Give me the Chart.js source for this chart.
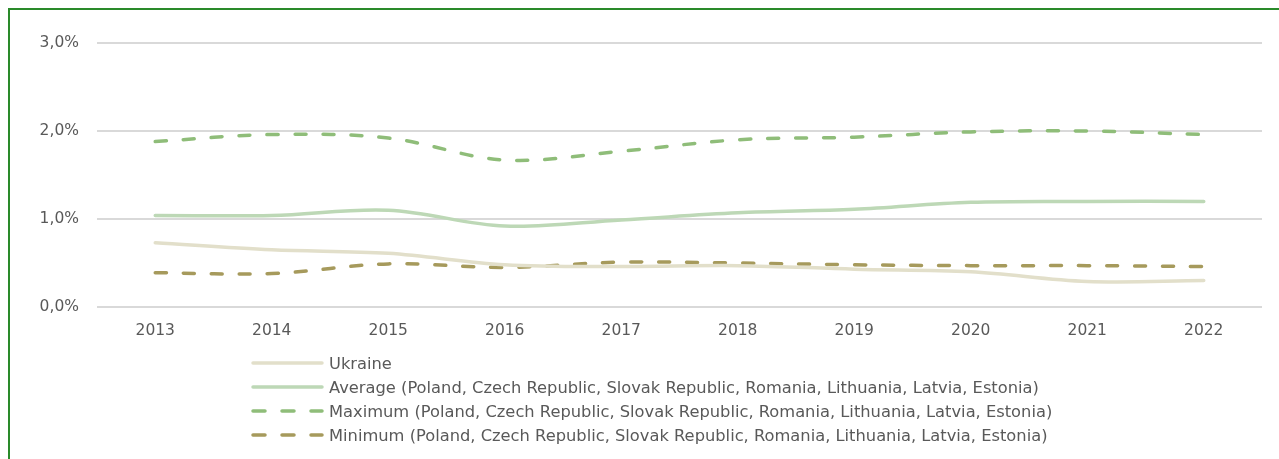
<!DOCTYPE html>
<html>
<head>
<meta charset="utf-8">
<script src="https://cdn.jsdelivr.net/npm/chart.js@4.4.0/dist/chart.umd.min.js"></script>
<style>
  body { margin: 0; background: #fff; width: 1279px; height: 459px; overflow: hidden; position: relative; font-family: "DejaVu Sans", sans-serif; }
  #frame { position: absolute; left: 8px; top: 8px; width: 1400px; height: 600px; border: 2px solid #2a8a2a; box-sizing: border-box; }
  #wrap { position: absolute; left: 0; top: 0; width: 1279px; height: 345px; }
  #legend { position: absolute; left: 250px; top: 351px; color: #595959; font-size: 16.3px; }
  .item { height: 24px; display: flex; align-items: center; }
  .item canvas { margin-right: 5px; }
</style>
</head>
<body>
<div id="frame"></div>
<div id="wrap"><canvas id="myChart"></canvas></div>
<div id="legend"></div>
<script>
    var years = ['2013', '2014', '2015', '2016', '2017', '2018', '2019', '2020', '2021', '2022']
    var ukraine = [0.73, 0.65, 0.61, 0.48, 0.46, 0.47, 0.43, 0.40, 0.29, 0.30]
    var average = [1.04, 1.04, 1.10, 0.92, 0.99, 1.07, 1.11, 1.19, 1.20, 1.20]
    var maximum = [1.88, 1.96, 1.92, 1.67, 1.77, 1.90, 1.93, 1.99, 2.00, 1.96]
    var minimum = [0.39, 0.38, 0.49, 0.45, 0.51, 0.50, 0.48, 0.47, 0.47, 0.46]
    var group = '(Poland, Czech Republic, Slovak Republic, Romania, Lithuania, Latvia, Estonia)'

    var textColor = '#595959'
    var font = { family: '"DejaVu Sans", sans-serif', size: 15.5 }

    function line(label, data, color, dashed) {
        return {
            label: label,
            data: data,
            borderColor: color,
            backgroundColor: color,
            borderWidth: 3.5,
            borderDash: dashed ? [11, 17] : [],
            borderCapStyle: 'round',
            pointRadius: 0,
            tension: 0.35,
            fill: false
        }
    }

    var ctx = document.getElementById('myChart').getContext('2d');
    var myChart = new Chart(ctx, {
        type: 'line',
        data: {
            labels: years,
            datasets: [
                line('Ukraine', ukraine, '#e2dfca', false),
                line('Average ' + group, average, '#bdd8b6', false),
                line('Maximum ' + group, maximum, '#8fbd79', true),
                line('Minimum ' + group, minimum, '#a69a5c', true)
            ]
        },
        options: {
            responsive: true,
            maintainAspectRatio: false,
            animation: false,
            layout: { padding: { top: 43, right: 17, left: 0, bottom: 0 } },
            plugins: {
                legend: { display: false },
                tooltip: { enabled: false }
            },
            scales: {
                x: {
                    offset: true,
                    grid: { display: false, drawTicks: false },
                    border: { display: false },
                    ticks: { color: textColor, font: font, padding: 15, maxRotation: 0 },
                    afterFit: function(s) { s.height = 38 }
                },
                y: {
                    min: 0,
                    max: 3,
                    grid: { color: '#d9d9d9', lineWidth: 2, drawTicks: false },
                    border: { display: false },
                    ticks: {
                        stepSize: 1,
                        color: textColor,
                        font: font,
                        padding: 18,
                        callback: function(v) { return v.toFixed(1).replace('.', ',') + '%' }
                    },
                    afterFit: function(s) { s.width = 97 }
                }
            }
        }
    });

    // legend below the chart, one row per series, left aligned like the original
    var legendBox = document.getElementById('legend')
    myChart.data.datasets.forEach(function(ds) {
        var row = document.createElement('div')
        row.className = 'item'
        var c = document.createElement('canvas')
        c.width = 74
        c.height = 12
        var g = c.getContext('2d')
        g.strokeStyle = ds.borderColor
        g.lineWidth = ds.borderWidth
        g.lineCap = 'round'
        g.setLineDash(ds.borderDash.length ? [12, 17] : [])
        g.beginPath()
        g.moveTo(3, 6)
        g.lineTo(72, 6)
        g.stroke()
        row.appendChild(c)
        var span = document.createElement('span')
        span.textContent = ds.label
        row.appendChild(span)
        legendBox.appendChild(row)
    })
</script>
</body>
</html>
